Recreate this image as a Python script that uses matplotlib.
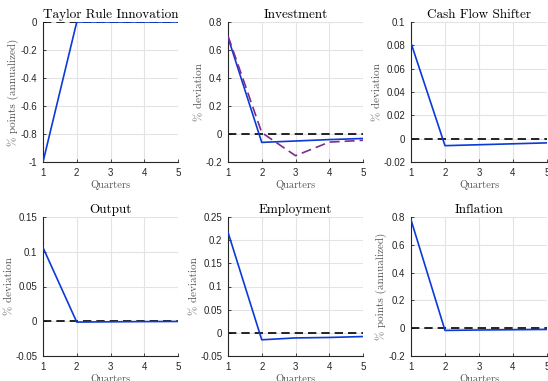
import numpy as np
import matplotlib
matplotlib.use('Agg')
import matplotlib.pyplot as plt

quarters = [1, 2, 3, 4, 5]

taylor = [-1.0, 0.0, 0.0, 0.0, 0.0]
invest = [0.69, -0.06, -0.05, -0.04, -0.032]
invest_alt = [0.70, 0.01, -0.155, -0.058, -0.045]
cashflow = [0.082, -0.006, -0.0052, -0.0044, -0.0036]
output = [0.106, -0.0012, -0.0008, -0.0005, -0.0003]
employ = [0.217, -0.015, -0.011, -0.010, -0.008]
inflation = [0.78, -0.016, -0.013, -0.011, -0.009]

titles = ['Taylor Rule Innovation', 'Investment', 'Cash Flow Shifter',
          'Output', 'Employment', 'Inflation']
ylabels = ['% points (annualized)', '% deviation', '% deviation',
           '% deviation', '% deviation', '% points (annualized)']
series = [taylor, invest, cashflow, output, employ, inflation]
ylims = [(-1, 0), (-0.2, 0.8), (-0.02, 0.1), (-0.05, 0.15), (-0.05, 0.25), (-0.2, 0.8)]
yticks = [np.arange(-1, 0.01, 0.2), np.arange(-0.2, 0.81, 0.2), np.arange(-0.02, 0.101, 0.02),
          np.arange(-0.05, 0.151, 0.05), np.arange(-0.05, 0.251, 0.05), np.arange(-0.2, 0.81, 0.2)]

# axes boxes in pixels: left, right, top, bottom
boxes = [(43, 178, 22, 162), (228, 363, 22, 162), (411, 547, 22, 162),
         (43, 178, 217, 356), (228, 363, 217, 356), (411, 547, 217, 356)]

W, H = 548, 381
fig = plt.figure(figsize=(W / 100, H / 100), dpi=100)

serif = ['cmr10', 'DejaVu Serif']
for i in range(6):
    l, r, t, b = boxes[i]
    ax = fig.add_axes([l / W, 1 - b / H, (r - l) / W, (b - t) / H])
    ax.axhline(0, color='black', linestyle=(0, (5, 3)), linewidth=1.2, zorder=2)
    ax.plot(quarters, series[i], color='#0b3ad8', linewidth=1.2, zorder=3)
    if i == 1:
        ax.plot(quarters, invest_alt, color='#7b2d8e', linestyle=(0, (6, 3)), linewidth=1.2, zorder=3)
    ax.set_xlim(1, 5)
    ax.set_ylim(*ylims[i])
    ax.set_xticks(quarters)
    ax.set_yticks(yticks[i])
    ax.set_yticklabels(['%g' % (round(v, 3) + 0.0) for v in yticks[i]])
    ax.grid(True, color='#e3e3e3', linewidth=0.8)
    ax.set_axisbelow(True)
    for s in ['top', 'right']:
        ax.spines[s].set_visible(False)
    for s in ['left', 'bottom']:
        ax.spines[s].set_color('#262626')
        ax.spines[s].set_linewidth(0.8)
    ax.tick_params(direction='in', length=2.5, width=0.6, labelsize=7, colors='#262626',
                   labelcolor='#262626', pad=4)
    for lab in ax.get_xticklabels() + ax.get_yticklabels():
        lab.set_family('Liberation Sans')
    ax.set_title(titles[i], family=serif, fontsize=9.5, pad=3)
    ax.set_xlabel('Quarters', family=serif, fontsize=7.5, color='#555555', labelpad=1.5)
    ax.set_ylabel(ylabels[i], family=serif, fontsize=8, color='#555555', labelpad=1)

fig.savefig('out.png', dpi=100)
